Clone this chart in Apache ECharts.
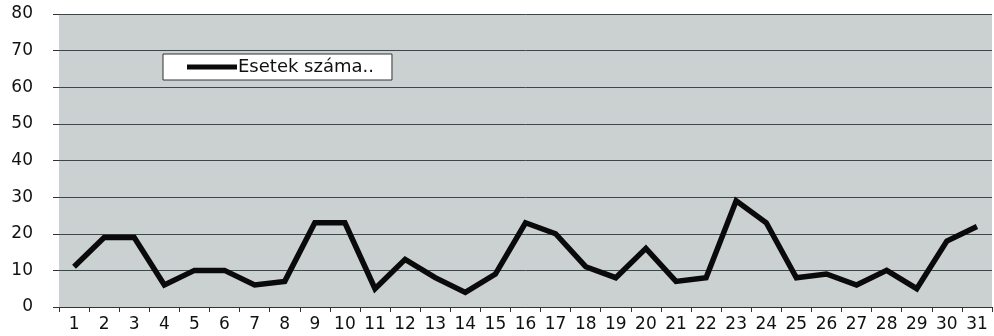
<!DOCTYPE html>
<html>
<head>
<meta charset="utf-8">
<script src="https://cdn.jsdelivr.net/npm/echarts@6/dist/echarts.min.js"></script>
<style>
  html, body { margin: 0; padding: 0; background: #ffffff; }
  #chart { width: 994px; height: 336px; }
</style>
</head>
<body>
<div id="chart"></div>
<script>
// Days of the month and daily case counts
const days = ['1','2','3','4','5','6','7','8','9','10','11','12','13','14','15','16','17','18','19','20','21','22','23','24','25','26','27','28','29','30','31'];
const cases = [11, 19, 19, 6, 10, 10, 6, 7, 23, 23, 5, 13, 8, 4, 9, 23, 20, 11, 8, 16, 7, 8, 29, 23, 8, 9, 6, 10, 5, 18, 22];
const seriesName = 'Esetek száma..';

const chart = echarts.init(document.getElementById('chart'));
chart.setOption({
  animation: false,
  textStyle: { fontFamily: 'DejaVu Sans, Verdana, sans-serif' },
  grid: { left: 59, right: 2, top: 14, bottom: 29, show: true, backgroundColor: '#cbd0d0', borderWidth: 0 },
  legend: {
    left: 163, top: 54,
    data: [seriesName],
    icon: 'rect',
    itemWidth: 50, itemHeight: 5,
    itemGap: 0,
    backgroundColor: '#ffffff',
    borderColor: '#333333', borderWidth: 1,
    padding: [4, 18, 4, 24],
    textStyle: { fontSize: 18, color: '#111111', padding: [0, 0, 0, -4] }
  },
  xAxis: {
    type: 'category',
    data: days,
    boundaryGap: true,
    axisLine: { lineStyle: { color: '#333333', width: 1 } },
    axisTick: { show: true, length: 5, lineStyle: { color: '#333333' } },
    axisLabel: { color: '#111111', fontSize: 17, margin: 9 },
    splitLine: { show: false }
  },
  yAxis: {
    type: 'value',
    min: 0, max: 80, interval: 10,
    axisLine: { show: false },
    axisTick: { show: true, length: 6, lineStyle: { color: '#333333' } },
    axisLabel: { color: '#111111', fontSize: 17, margin: 26 },
    splitLine: { show: true, lineStyle: { color: '#3a484c', width: 1 } }
  },
  series: [{
    name: seriesName,
    type: 'line',
    data: cases,
    symbol: 'none',
    lineStyle: { color: '#0a0a0a', width: 5.5, join: 'miter' },
    itemStyle: { color: '#0a0a0a' }
  }]
});
</script>
</body>
</html>
